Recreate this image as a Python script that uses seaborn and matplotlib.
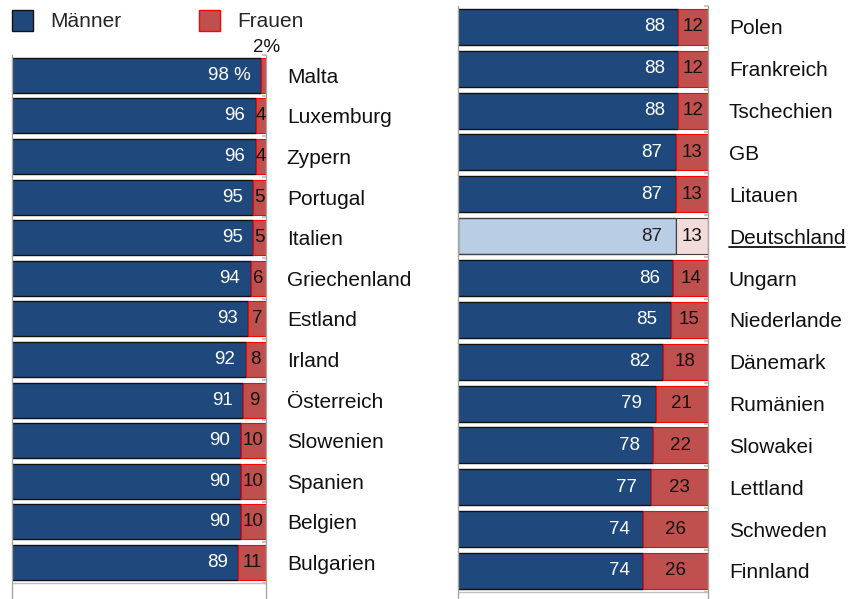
import numpy as np
import matplotlib
matplotlib.use('Agg')
import matplotlib.pyplot as plt
from matplotlib.patches import Patch
from matplotlib.lines import Line2D
import seaborn as sns

sns.set_style('white')
plt.rcParams['font.family'] = ['Liberation Sans', 'DejaVu Sans']

# data
laender_links = ['Malta', 'Luxemburg', 'Zypern', 'Portugal', 'Italien', 'Griechenland',
                 'Estland', 'Irland', 'Österreich', 'Slowenien', 'Spanien', 'Belgien',
                 'Bulgarien']
maenner_links = [98, 96, 96, 95, 95, 94, 93, 92, 91, 90, 90, 90, 89]
frauen_links = [2, 4, 4, 5, 5, 6, 7, 8, 9, 10, 10, 10, 11]

laender_rechts = ['Polen', 'Frankreich', 'Tschechien', 'GB', 'Litauen', 'Deutschland',
                  'Ungarn', 'Niederlande', 'Dänemark', 'Rumänien', 'Slowakei',
                  'Lettland', 'Schweden', 'Finnland']
maenner_rechts = [88, 88, 88, 87, 87, 87, 86, 85, 82, 79, 78, 77, 74, 74]
frauen_rechts = [12, 12, 12, 13, 13, 13, 14, 15, 18, 21, 22, 23, 26, 26]

highlight = 'Deutschland'

BLAU = '#1F497D'
ROT = '#C0504D'
HBLAU = '#B9CDE5'
HROT = '#F2DCDB'
GRAU = '#A6A6A6'

fig = plt.figure(figsize=(8.52, 5.99), dpi=100)
W, H = 852, 599


def panel(rect, laender, maenner, frauen, ylim, off):
    ax = fig.add_axes(rect)
    n = len(laender)
    sns.barplot(x=maenner, y=laender, orient='h', color=BLAU, width=0.86,
                edgecolor='#111111', linewidth=1, saturation=1, ax=ax)
    pos = np.arange(n)
    rbars = ax.barh(pos, frauen, left=maenner, height=0.86, color=ROT,
                    edgecolor='#FF0000', linewidth=0.8)
    for i, land in enumerate(laender):
        if land == highlight:
            ax.patches[i].set_facecolor(HBLAU)
            ax.patches[i].set_edgecolor('#404040')
            rbars[i].set_facecolor(HROT)
            rbars[i].set_edgecolor('#404040')
        tc = '#222222' if land == highlight else 'white'
        lab = f'{maenner[i]} %' if land == 'Malta' else str(maenner[i])
        ax.annotate(lab, (maenner[i], i), xytext=(off, 0), textcoords='offset points',
                    ha='right', va='center', color=tc, fontsize=13.5)
        if frauen[i] >= 4:
            ax.text(maenner[i] + frauen[i] / 2, i, str(frauen[i]), ha='center',
                    va='center', color='#111111', fontsize=13.5)
        else:
            ax.annotate(f'{frauen[i]}%', (maenner[i] + frauen[i] / 2, i - 0.68),
                        xytext=(2, 0), textcoords='offset points', ha='center',
                        va='center', color='#111111', fontsize=13.5, annotation_clip=False)
    ax.set_xlim(0, 100)
    ax.set_ylim(*ylim)
    ax.set_xticks([])
    ax.set_xlabel('')
    ax.set_ylabel('')
    ax.yaxis.tick_right()
    ax.tick_params(axis='y', which='major', length=0, pad=15, labelsize=15,
                   labelcolor='#111111')
    ax.set_yticks(np.arange(-0.5, n), minor=True)
    ax.tick_params(axis='y', which='minor', right=True, left=False, direction='in',
                   length=3, width=1.5, color='#C8C8C8')
    for s in ['top', 'bottom']:
        ax.spines[s].set_visible(False)
    for s in ['left', 'right']:
        ax.spines[s].set_color(GRAU)
        ax.spines[s].set_linewidth(1)
    ax.axhline(n - 0.5, color='#C0C0C0', lw=1)
    return ax


ax1 = panel([12 / W, 0, 254 / W, 544 / H], laender_links, maenner_links,
            frauen_links, (12.9, -0.5), -7.5)
ax2 = panel([458 / W, 0, 250 / W, 593 / H], laender_rechts, maenner_rechts,
            frauen_rechts, (13.67, -0.5), -9.5)

handles = [Patch(facecolor=BLAU, edgecolor='#111111', label='Männer'),
           Patch(facecolor=ROT, edgecolor='#FF0000', label='Frauen')]
fig.legend(handles=handles, loc='upper left', bbox_to_anchor=(12 / W, 1 - 10 / H),
           ncol=2, frameon=False, fontsize=15, handlelength=1.0, handleheight=1.15,
           handletextpad=0.82, columnspacing=3.75, borderpad=0, borderaxespad=0)

# underline highlight label
fig.canvas.draw()
r = fig.canvas.get_renderer()
idx = laender_rechts.index(highlight)
bb = ax2.get_yticklabels()[idx].get_window_extent(r)
inv = fig.transFigure.inverted()
(x0, y0), (x1, _) = inv.transform([(bb.x0, bb.y0 + 1), (bb.x1, bb.y0 + 1)])
fig.add_artist(Line2D([x0, x1], [y0, y0], color='#111111', lw=1.3))

fig.savefig('out.png', dpi=100)
